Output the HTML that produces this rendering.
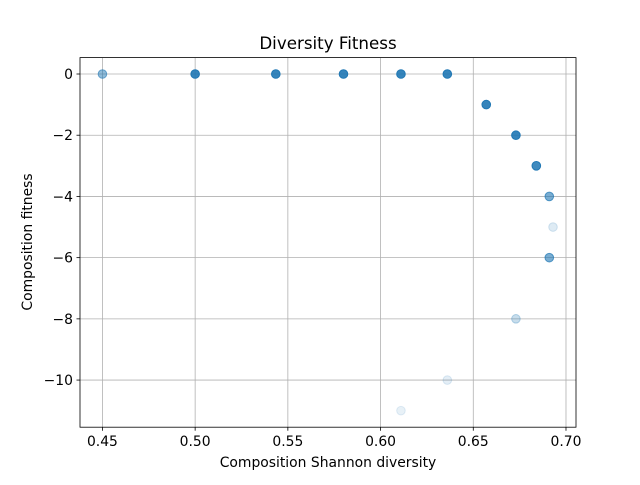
<!DOCTYPE html>
<html><head><meta charset="utf-8"><style>
body{margin:0;background:#fff}
svg text{font-family:"DejaVu Sans","Liberation Sans",sans-serif;fill:#000}
</style></head><body>
<svg id="chart" width="640" height="480">
<rect width="640" height="480" fill="#fff"/>
<g id="grid"></g>
<g id="points"></g>
<rect x="80" y="57.6" width="496" height="369.6" fill="none" stroke="#000" stroke-width="0.8"/>
<g id="ticks"></g>
<text x="328" y="49" text-anchor="middle" font-size="16.7">Diversity Fitness</text>
<text x="328" y="467" text-anchor="middle" font-size="13.9">Composition Shannon diversity</text>
<text transform="translate(32,242) rotate(-90)" text-anchor="middle" font-size="13.9">Composition fitness</text>
</svg>
<script>
const xVals=[0.45,0.5,0.5435,0.58,0.611,0.636,0.657,0.673,0.684,0.691,0.693,0.691,0.673,0.636,0.611];
const yVals=[0,0,0,0,0,0,-1,-2,-3,-4,-5,-6,-8,-10,-11];
const alphas=[0.5,0.9,0.9,0.9,0.9,0.9,0.9,0.9,0.85,0.6,0.15,0.6,0.25,0.12,0.1];
const xTicks=[0.45,0.5,0.55,0.6,0.65,0.7];
const xTickLabels=["0.45","0.50","0.55","0.60","0.65","0.70"];
const yTicks=[0,-2,-4,-6,-8,-10];
const yTickLabels=["0","−2","−4","−6","−8","−10"];
const L=80,R=576,T=57.6,B=427.2,x0=0.4379,x1=0.7054,y0=-11.54,y1=0.536;
const sx=v=>L+(v-x0)/(x1-x0)*(R-L);
const sy=v=>B-(v-y0)/(y1-y0)*(B-T);
const NS="http://www.w3.org/2000/svg";
const grid=document.getElementById('grid'),ticks=document.getElementById('ticks'),pts=document.getElementById('points');
function mk(tag,attrs,parent){const e=document.createElementNS(NS,tag);for(const k in attrs)e.setAttribute(k,attrs[k]);parent.appendChild(e);return e;}
xTicks.forEach((t,i)=>{const x=sx(t);
 const g=mk('line',{x1:x,x2:x,y1:T,y2:B,stroke:'#b0b0b0','stroke-width':0.8},grid);
 
 
 mk('line',{x1:x,x2:x,y1:B,y2:B+3.5,stroke:'#000','stroke-width':0.8},ticks);
 const tx=mk('text',{x:x,y:B+19,'text-anchor':'middle','font-size':13.9},ticks);tx.textContent=xTickLabels[i];
 
 });
yTicks.forEach((t,i)=>{const y=sy(t);
 const g=mk('line',{x1:L,x2:R,y1:y,y2:y,stroke:'#b0b0b0','stroke-width':0.8},grid);
 
 
 mk('line',{x1:L-3.5,x2:L,y1:y,y2:y,stroke:'#000','stroke-width':0.8},ticks);
 const tx=mk('text',{x:L-7,y:y+5,'text-anchor':'end','font-size':13.9},ticks);tx.textContent=yTickLabels[i];
 
 });
xVals.forEach((v,i)=>{const c=mk('circle',{cx:sx(v),cy:sy(yVals[i]),r:4.3,fill:'#1f77b4','fill-opacity':alphas[i],stroke:'#1f77b4','stroke-opacity':Math.min(1,alphas[i]*1.2)},pts);
 
 });
</script>
</body></html>
